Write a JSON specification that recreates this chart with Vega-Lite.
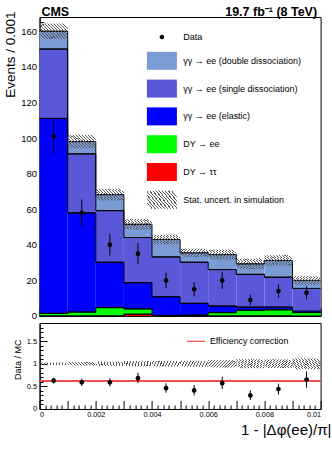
{
  "$schema": "https://vega.github.io/schema/vega-lite/v6.json",
  "autosize": {"type": "pad"},
  "padding": {"left": 2.6, "top": 4, "right": 2, "bottom": 14},
  "background": "white",
  "spacing": 7,
  "bounds": "flush",
  "params": [
    {"name": "hatch", "expr": "{gradient:'linear',x1:0,y1:0.75,x2:1,y2:0.25,stops:[{offset:0,color:'rgba(0,0,0,0)'},{offset:0.025,color:'rgba(0,0,0,0)'},{offset:0.025,color:'#555'},{offset:0.0542,color:'#555'},{offset:0.0542,color:'rgba(0,0,0,0)'},{offset:0.1083,color:'rgba(0,0,0,0)'},{offset:0.1083,color:'#555'},{offset:0.1375,color:'#555'},{offset:0.1375,color:'rgba(0,0,0,0)'},{offset:0.1917,color:'rgba(0,0,0,0)'},{offset:0.1917,color:'#555'},{offset:0.2208,color:'#555'},{offset:0.2208,color:'rgba(0,0,0,0)'},{offset:0.275,color:'rgba(0,0,0,0)'},{offset:0.275,color:'#555'},{offset:0.3042,color:'#555'},{offset:0.3042,color:'rgba(0,0,0,0)'},{offset:0.3583,color:'rgba(0,0,0,0)'},{offset:0.3583,color:'#555'},{offset:0.3875,color:'#555'},{offset:0.3875,color:'rgba(0,0,0,0)'},{offset:0.4417,color:'rgba(0,0,0,0)'},{offset:0.4417,color:'#555'},{offset:0.4708,color:'#555'},{offset:0.4708,color:'rgba(0,0,0,0)'},{offset:0.525,color:'rgba(0,0,0,0)'},{offset:0.525,color:'#555'},{offset:0.5542,color:'#555'},{offset:0.5542,color:'rgba(0,0,0,0)'},{offset:0.6083,color:'rgba(0,0,0,0)'},{offset:0.6083,color:'#555'},{offset:0.6375,color:'#555'},{offset:0.6375,color:'rgba(0,0,0,0)'},{offset:0.6917,color:'rgba(0,0,0,0)'},{offset:0.6917,color:'#555'},{offset:0.7208,color:'#555'},{offset:0.7208,color:'rgba(0,0,0,0)'},{offset:0.775,color:'rgba(0,0,0,0)'},{offset:0.775,color:'#555'},{offset:0.8042,color:'#555'},{offset:0.8042,color:'rgba(0,0,0,0)'},{offset:0.8583,color:'rgba(0,0,0,0)'},{offset:0.8583,color:'#555'},{offset:0.8875,color:'#555'},{offset:0.8875,color:'rgba(0,0,0,0)'},{offset:0.9417,color:'rgba(0,0,0,0)'},{offset:0.9417,color:'#555'},{offset:0.9708,color:'#555'},{offset:0.9708,color:'rgba(0,0,0,0)'},{offset:1,color:'rgba(0,0,0,0)'}]}"}
  ],
  "config": {
    "font": "Liberation Sans",
    "view": {"stroke": "black", "strokeWidth": 1},
    "axis": {"domainColor": "black", "tickColor": "black", "labelColor": "black", "titleColor": "black", "grid": false, "zindex": 1, "labelFont": "Liberation Sans", "titleFont": "Liberation Sans", "titleFontWeight": "normal", "tickWidth": 1, "domainWidth": 1},
    "legend": {"labelFont": "Liberation Sans", "labelColor": "black", "padding": 0}
  },
  "datasets": {
    "comp": [
      {"b": 1, "x0": 0.000, "x1": 0.001, "c": "DY → ττ", "o": 1, "v": 0},
      {"b": 1, "x0": 0.000, "x1": 0.001, "c": "DY → ee", "o": 2, "v": 1.5},
      {"b": 1, "x0": 0.000, "x1": 0.001, "c": "γγ → ee (elastic)", "o": 3, "v": 109.5},
      {"b": 1, "x0": 0.000, "x1": 0.001, "c": "γγ → ee (single dissociation)", "o": 4, "v": 39.0},
      {"b": 1, "x0": 0.000, "x1": 0.001, "c": "γγ → ee (double dissociation)", "o": 5, "v": 10.0},
      {"b": 2, "x0": 0.001, "x1": 0.002, "c": "DY → ττ", "o": 1, "v": 0},
      {"b": 2, "x0": 0.001, "x1": 0.002, "c": "DY → ee", "o": 2, "v": 2.2},
      {"b": 2, "x0": 0.001, "x1": 0.002, "c": "γγ → ee (elastic)", "o": 3, "v": 55.7},
      {"b": 2, "x0": 0.001, "x1": 0.002, "c": "γγ → ee (single dissociation)", "o": 4, "v": 33.2},
      {"b": 2, "x0": 0.001, "x1": 0.002, "c": "γγ → ee (double dissociation)", "o": 5, "v": 6.9},
      {"b": 3, "x0": 0.002, "x1": 0.003, "c": "DY → ττ", "o": 1, "v": 0},
      {"b": 3, "x0": 0.002, "x1": 0.003, "c": "DY → ee", "o": 2, "v": 4.7},
      {"b": 3, "x0": 0.002, "x1": 0.003, "c": "γγ → ee (elastic)", "o": 3, "v": 25.5},
      {"b": 3, "x0": 0.002, "x1": 0.003, "c": "γγ → ee (single dissociation)", "o": 4, "v": 29.0},
      {"b": 3, "x0": 0.002, "x1": 0.003, "c": "γγ → ee (double dissociation)", "o": 5, "v": 9.0},
      {"b": 4, "x0": 0.003, "x1": 0.004, "c": "DY → ττ", "o": 1, "v": 1.0},
      {"b": 4, "x0": 0.003, "x1": 0.004, "c": "DY → ee", "o": 2, "v": 3.0},
      {"b": 4, "x0": 0.003, "x1": 0.004, "c": "γγ → ee (elastic)", "o": 3, "v": 14.7},
      {"b": 4, "x0": 0.003, "x1": 0.004, "c": "γγ → ee (single dissociation)", "o": 4, "v": 25.4},
      {"b": 4, "x0": 0.003, "x1": 0.004, "c": "γγ → ee (double dissociation)", "o": 5, "v": 7.4},
      {"b": 5, "x0": 0.004, "x1": 0.005, "c": "DY → ττ", "o": 1, "v": 0},
      {"b": 5, "x0": 0.004, "x1": 0.005, "c": "DY → ee", "o": 2, "v": 0.3},
      {"b": 5, "x0": 0.004, "x1": 0.005, "c": "γγ → ee (elastic)", "o": 3, "v": 10.5},
      {"b": 5, "x0": 0.004, "x1": 0.005, "c": "γγ → ee (single dissociation)", "o": 4, "v": 22.4},
      {"b": 5, "x0": 0.004, "x1": 0.005, "c": "γγ → ee (double dissociation)", "o": 5, "v": 9.8},
      {"b": 6, "x0": 0.005, "x1": 0.006, "c": "DY → ττ", "o": 1, "v": 0},
      {"b": 6, "x0": 0.005, "x1": 0.006, "c": "DY → ee", "o": 2, "v": 0.5},
      {"b": 6, "x0": 0.005, "x1": 0.006, "c": "γγ → ee (elastic)", "o": 3, "v": 6.6},
      {"b": 6, "x0": 0.005, "x1": 0.006, "c": "γγ → ee (single dissociation)", "o": 4, "v": 23.1},
      {"b": 6, "x0": 0.005, "x1": 0.006, "c": "γγ → ee (double dissociation)", "o": 5, "v": 5.3},
      {"b": 7, "x0": 0.006, "x1": 0.007, "c": "DY → ττ", "o": 1, "v": 0},
      {"b": 7, "x0": 0.006, "x1": 0.007, "c": "DY → ee", "o": 2, "v": 1.9},
      {"b": 7, "x0": 0.006, "x1": 0.007, "c": "γγ → ee (elastic)", "o": 3, "v": 3.7},
      {"b": 7, "x0": 0.006, "x1": 0.007, "c": "γγ → ee (single dissociation)", "o": 4, "v": 20.5},
      {"b": 7, "x0": 0.006, "x1": 0.007, "c": "γγ → ee (double dissociation)", "o": 5, "v": 8.4},
      {"b": 8, "x0": 0.007, "x1": 0.008, "c": "DY → ττ", "o": 1, "v": 0},
      {"b": 8, "x0": 0.007, "x1": 0.008, "c": "DY → ee", "o": 2, "v": 3.2},
      {"b": 8, "x0": 0.007, "x1": 0.008, "c": "γγ → ee (elastic)", "o": 3, "v": 1.8},
      {"b": 8, "x0": 0.007, "x1": 0.008, "c": "γγ → ee (single dissociation)", "o": 4, "v": 18.4},
      {"b": 8, "x0": 0.007, "x1": 0.008, "c": "γγ → ee (double dissociation)", "o": 5, "v": 5.9},
      {"b": 9, "x0": 0.008, "x1": 0.009, "c": "DY → ττ", "o": 1, "v": 0},
      {"b": 9, "x0": 0.008, "x1": 0.009, "c": "DY → ee", "o": 2, "v": 3.5},
      {"b": 9, "x0": 0.008, "x1": 0.009, "c": "γγ → ee (elastic)", "o": 3, "v": 1.5},
      {"b": 9, "x0": 0.008, "x1": 0.009, "c": "γγ → ee (single dissociation)", "o": 4, "v": 16.8},
      {"b": 9, "x0": 0.008, "x1": 0.009, "c": "γγ → ee (double dissociation)", "o": 5, "v": 9.4},
      {"b": 10, "x0": 0.009, "x1": 0.010, "c": "DY → ττ", "o": 1, "v": 0},
      {"b": 10, "x0": 0.009, "x1": 0.010, "c": "DY → ee", "o": 2, "v": 1.9},
      {"b": 10, "x0": 0.009, "x1": 0.010, "c": "γγ → ee (elastic)", "o": 3, "v": 0.9},
      {"b": 10, "x0": 0.009, "x1": 0.010, "c": "γγ → ee (single dissociation)", "o": 4, "v": 12.7},
      {"b": 10, "x0": 0.009, "x1": 0.010, "c": "γγ → ee (double dissociation)", "o": 5, "v": 4.5}
    ],
    "unc": [
      {"x0": 0.000, "x1": 0.001, "lo": 155.7, "hi": 164.3},
      {"x0": 0.001, "x1": 0.002, "lo": 94.2, "hi": 101.8},
      {"x0": 0.002, "x1": 0.003, "lo": 64.9, "hi": 71.5},
      {"x0": 0.003, "x1": 0.004, "lo": 48.5, "hi": 54.5},
      {"x0": 0.004, "x1": 0.005, "lo": 40.3, "hi": 45.7},
      {"x0": 0.005, "x1": 0.006, "lo": 33.2, "hi": 37.8},
      {"x0": 0.006, "x1": 0.007, "lo": 31.7, "hi": 37.3},
      {"x0": 0.007, "x1": 0.008, "lo": 26.3, "hi": 32.3},
      {"x0": 0.008, "x1": 0.009, "lo": 28.2, "hi": 34.2},
      {"x0": 0.009, "x1": 0.010, "lo": 17.6, "hi": 22.4}
    ],
    "pts": [
      {"x": 0.0005, "y": 101, "lo": 91, "hi": 111},
      {"x": 0.0015, "y": 58, "lo": 50.5, "hi": 65.5},
      {"x": 0.0025, "y": 40, "lo": 34, "hi": 46},
      {"x": 0.0035, "y": 35, "lo": 29, "hi": 41},
      {"x": 0.0045, "y": 20, "lo": 15.5, "hi": 24.5},
      {"x": 0.0055, "y": 15, "lo": 11, "hi": 19},
      {"x": 0.0065, "y": 20, "lo": 15.2, "hi": 24.8},
      {"x": 0.0075, "y": 9, "lo": 6, "hi": 12},
      {"x": 0.0085, "y": 14, "lo": 10.3, "hi": 17.7},
      {"x": 0.0095, "y": 13, "lo": 9.3, "hi": 16.7}
    ],
    "ratio": [
      {"x": 0.0005, "r": 0.625, "lo": 0.56, "hi": 0.69},
      {"x": 0.0015, "r": 0.59, "lo": 0.51, "hi": 0.67},
      {"x": 0.0025, "r": 0.59, "lo": 0.50, "hi": 0.68},
      {"x": 0.0035, "r": 0.68, "lo": 0.57, "hi": 0.80},
      {"x": 0.0045, "r": 0.46, "lo": 0.36, "hi": 0.57},
      {"x": 0.0055, "r": 0.41, "lo": 0.30, "hi": 0.53},
      {"x": 0.0065, "r": 0.57, "lo": 0.44, "hi": 0.71},
      {"x": 0.0075, "r": 0.30, "lo": 0.20, "hi": 0.41},
      {"x": 0.0085, "r": 0.44, "lo": 0.32, "hi": 0.56},
      {"x": 0.0095, "r": 0.65, "lo": 0.47, "hi": 0.83}
    ],
    "band": [
      {"x0": 0.000, "x1": 0.001, "lo": 0.973, "hi": 1.027},
      {"x0": 0.001, "x1": 0.002, "lo": 0.961, "hi": 1.039},
      {"x0": 0.002, "x1": 0.003, "lo": 0.952, "hi": 1.048},
      {"x0": 0.003, "x1": 0.004, "lo": 0.942, "hi": 1.058},
      {"x0": 0.004, "x1": 0.005, "lo": 0.937, "hi": 1.063},
      {"x0": 0.005, "x1": 0.006, "lo": 0.935, "hi": 1.065},
      {"x0": 0.006, "x1": 0.007, "lo": 0.919, "hi": 1.081},
      {"x0": 0.007, "x1": 0.008, "lo": 0.900, "hi": 1.100},
      {"x0": 0.008, "x1": 0.009, "lo": 0.904, "hi": 1.096},
      {"x0": 0.009, "x1": 0.010, "lo": 0.880, "hi": 1.120}
    ]
  },
  "vconcat": [
    {
      "width": 281,
      "height": 299,
      "resolve": {"axis": {"x": "independent", "y": "independent"}},
      "layer": [
        {
          "data": {"name": "comp"},
          "transform": [{"stack": "v", "groupby": ["b"], "sort": [{"field": "o", "order": "ascending"}], "as": ["lo", "hi"]}],
          "mark": {"type": "rect", "strokeWidth": 0},
          "encoding": {
            "x": {"field": "x0", "type": "quantitative", "scale": {"domain": [0, 0.01], "nice": false, "zero": false},
                  "axis": {"orient": "bottom", "values": [0, 0.001, 0.002, 0.003, 0.004, 0.005, 0.006, 0.007, 0.008, 0.009, 0.01], "tickSize": -8.5, "labels": false, "title": null}},
            "x2": {"field": "x1"},
            "y": {"field": "lo", "type": "quantitative", "scale": {"domain": [0, 168], "nice": false},
                  "axis": {"orient": "left", "values": [0, 20, 40, 60, 80, 100, 120, 140, 160], "format": "d", "tickSize": -8, "labelPadding": 11, "labelFontSize": 9.5,
                           "title": "Events / 0.001", "titleFontSize": 13.5, "titleAngle": 270, "titleAlign": "right", "titleBaseline": "alphabetic", "titleX": -25.4, "titleY": -6}},
            "y2": {"field": "hi"},
            "color": {
              "field": "c", "type": "nominal",
              "scale": {
                "domain": ["Data", "γγ → ee (double dissociation)", "γγ → ee (single dissociation)", "γγ → ee (elastic)", "DY → ee", "DY → ττ", "Stat. uncert. in simulation"],
                "range": ["black", "#7b9bd5", "#5b57d9", "#0000ff", "#00ff00", "#ff0000", {"expr": "hatch"}]
              },
              "legend": {
                "orient": "none", "legendX": 107.3, "legendY": 5, "title": null, "padding": 0,
                "symbolSize": 900, "symbolStrokeWidth": 0, "labelFontSize": 9, "labelOffset": 6.3, "rowPadding": 3.8, "labelLimit": 300,
                "encode": {"symbols": {"update": {"shape": {"signal": "datum.value === 'Data' ? 'M0.15,0A0.15,0.15,0,1,1,-0.15,0A0.15,0.15,0,1,1,0.15,0Z' : 'M-1,-0.6H1V0.6H-1Z'"}}}}
              }
            }
          }
        },
        {
          "data": {"name": "comp"},
          "transform": [{"stack": "v", "groupby": ["b"], "sort": [{"field": "o", "order": "ascending"}], "as": ["lo", "hi"]}],
          "mark": {"type": "rule", "color": "black", "strokeWidth": 1},
          "encoding": {
            "x": {"field": "x0", "type": "quantitative",
                  "axis": {"orient": "bottom", "values": [0.0002,0.0004,0.0006,0.0008,0.0012,0.0014,0.0016,0.0018,0.0022,0.0024,0.0026,0.0028,0.0032,0.0034,0.0036,0.0038,0.0042,0.0044,0.0046,0.0048,0.0052,0.0054,0.0056,0.0058,0.0062,0.0064,0.0066,0.0068,0.0072,0.0074,0.0076,0.0078,0.0082,0.0084,0.0086,0.0088,0.0092,0.0094,0.0096,0.0098], "tickSize": -4, "labels": false, "domain": false, "title": null}},
            "x2": {"field": "x1"},
            "y": {"field": "hi", "type": "quantitative",
                  "axis": {"orient": "left", "values": [5,10,15,25,30,35,45,50,55,65,70,75,85,90,95,105,110,115,125,130,135,145,150,155,165], "tickSize": -4, "labels": false, "domain": false,
                           "title": "CMS", "titleFontSize": 12.5, "titleFontWeight": "bold", "titleAngle": 0, "titleAlign": "left", "titleBaseline": "alphabetic", "titleX": 1.3, "titleY": -2}}
          }
        },
        {
          "data": {"name": "comp"},
          "transform": [{"stack": "v", "groupby": ["b"], "sort": [{"field": "o", "order": "ascending"}], "as": ["lo", "hi"]}],
          "mark": {"type": "line", "interpolate": "step-after", "color": "black", "strokeWidth": 1},
          "encoding": {
            "x": {"field": "x0", "type": "quantitative", "axis": null},
            "y": {"field": "hi", "type": "quantitative", "axis": null},
            "detail": {"field": "c"}
          }
        },
        {
          "data": {"name": "unc"},
          "mark": {"type": "rect", "strokeWidth": 0},
          "encoding": {
            "x": {"field": "x0", "type": "quantitative", "axis": null},
            "x2": {"field": "x1"},
            "y": {"field": "lo", "type": "quantitative", "axis": null},
            "y2": {"field": "hi"},
            "color": {"datum": "Stat. uncert. in simulation"}
          }
        },
        {
          "data": {"name": "pts"},
          "mark": {"type": "rule", "color": "black", "strokeWidth": 1},
          "encoding": {
            "x": {"field": "x", "type": "quantitative", "axis": null},
            "y": {"field": "lo", "type": "quantitative", "axis": null},
            "y2": {"field": "hi"}
          }
        },
        {
          "data": {"name": "pts"},
          "mark": {"type": "point", "shape": "circle", "filled": true, "size": 22, "opacity": 1, "strokeWidth": 0},
          "encoding": {
            "x": {"field": "x", "type": "quantitative",
                  "axis": {"orient": "top", "domain": false, "ticks": false, "labels": false,
                           "title": "19.7 fb⁻¹ (8 TeV)", "titleFontSize": 12.5, "titleFontWeight": "bold", "titleAlign": "right", "titleBaseline": "alphabetic", "titleX": 277, "titleY": -2}},
            "y": {"field": "y", "type": "quantitative", "axis": null},
            "color": {"datum": "Data"}
          }
        }
      ]
    },
    {
      "width": 281,
      "height": 86,
      "resolve": {"axis": {"x": "independent", "y": "independent"}},
      "layer": [
        {
          "data": {"name": "band"},
          "mark": {"type": "rect", "strokeWidth": 0, "fill": {"expr": "hatch"}},
          "encoding": {
            "x": {"field": "x0", "type": "quantitative", "scale": {"domain": [0, 0.01], "nice": false, "zero": false},
                  "axis": {"orient": "bottom", "values": [0, 0.001, 0.002, 0.003, 0.004, 0.005, 0.006, 0.007, 0.008, 0.009, 0.01], "tickSize": -8.5, "labelPadding": 10.3, "labelFontSize": 7.3,
                           "labelExpr": "round(datum.value * 1000) % 2 == 0 ? format(datum.value, '~g') : ''",
                           "title": "1 - |Δφ(ee)/π|", "titleFontSize": 15, "titleAlign": "right", "titleBaseline": "alphabetic", "titleX": 291.3, "titleY": 25.3}},
            "x2": {"field": "x1"},
            "y": {"field": "lo", "type": "quantitative", "scale": {"domain": [0, 1.9], "nice": false},
                  "axis": {"orient": "left", "values": [0, 0.5, 1, 1.5], "format": "~g", "tickSize": -7.5, "labelPadding": 10.5, "labelFontSize": 7.5,
                           "title": "Data / MC", "titleFontSize": 9, "titleAngle": 270, "titleAlign": "right", "titleBaseline": "alphabetic", "titleX": -19.4, "titleY": 16}},
            "y2": {"field": "hi"}
          }
        },
        {
          "data": {"name": "ratio"},
          "mark": {"type": "rule", "strokeWidth": 1.2},
          "encoding": {
            "y": {"datum": 0.625, "type": "quantitative", "axis": null},
            "color": {"datum": "Efficiency correction", "scale": {"range": ["#f04848"]},
                      "legend": {"orient": "none", "legendX": 146.3, "legendY": 8.3, "title": null, "padding": 0, "symbolType": "stroke", "symbolSize": 324, "symbolStrokeWidth": 1.2, "labelFontSize": 8.8, "labelOffset": 4}}
          }
        },
        {
          "data": {"name": "ratio"},
          "mark": {"type": "rule", "color": "black", "strokeWidth": 1},
          "encoding": {
            "x": {"field": "x", "type": "quantitative",
                  "axis": {"orient": "bottom", "values": [0.0002,0.0004,0.0006,0.0008,0.0012,0.0014,0.0016,0.0018,0.0022,0.0024,0.0026,0.0028,0.0032,0.0034,0.0036,0.0038,0.0042,0.0044,0.0046,0.0048,0.0052,0.0054,0.0056,0.0058,0.0062,0.0064,0.0066,0.0068,0.0072,0.0074,0.0076,0.0078,0.0082,0.0084,0.0086,0.0088,0.0092,0.0094,0.0096,0.0098], "tickSize": -4, "labels": false, "domain": false, "title": null}},
            "y": {"field": "lo", "type": "quantitative",
                  "axis": {"orient": "left", "values": [0.1,0.2,0.3,0.4,0.6,0.7,0.8,0.9,1.1,1.2,1.3,1.4,1.6,1.7,1.8], "tickSize": -3.5, "labels": false, "domain": false, "title": null}},
            "y2": {"field": "hi"}
          }
        },
        {
          "data": {"name": "ratio"},
          "mark": {"type": "point", "shape": "circle", "filled": true, "size": 22, "opacity": 1, "strokeWidth": 0, "color": "black"},
          "encoding": {
            "x": {"field": "x", "type": "quantitative", "axis": null},
            "y": {"field": "r", "type": "quantitative", "axis": null}
          }
        }
      ]
    }
  ],
  "resolve": {"scale": {"color": "independent"}, "legend": {"color": "independent"}}
}
